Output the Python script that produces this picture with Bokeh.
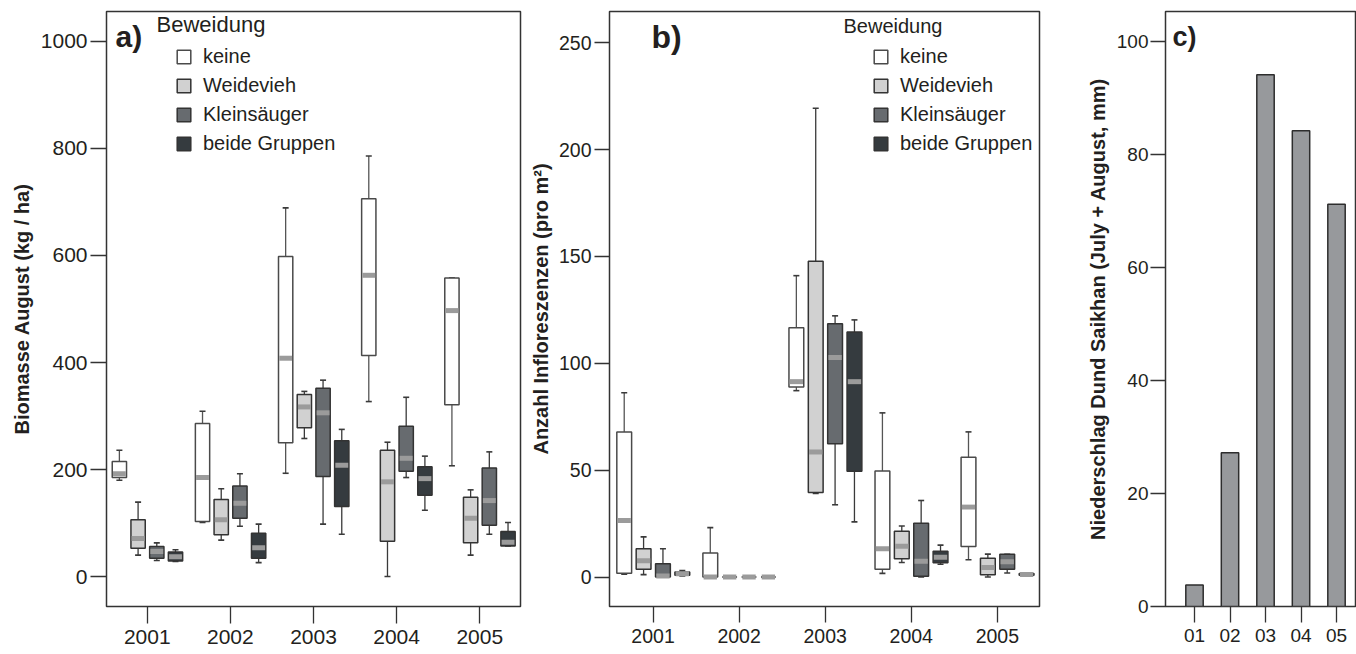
from bokeh.plotting import figure
from bokeh.layouts import row
from bokeh.models import Range1d, FixedTicker, Legend, LegendItem, Label
from bokeh.core.properties import value
from bokeh.embed import file_html
from bokeh.resources import INLINE

FONT = "Liberation Sans"
INK = "#231f20"
LINE = "#333333"
WHISK = "#3a3a3a"

# ---------------- data ----------------
years = ["2001", "2002", "2003", "2004", "2005"]
groups = ["keine", "Weidevieh", "Kleinsäuger", "beide Gruppen"]
group_colors = ["#ffffff", "#d1d1d1", "#676b6f", "#353b3f"]
median_color = "#9b9b9b"

# a) Biomasse August (kg / ha): lower whisker, Q1, median, Q3, upper whisker
bio_keine_lo = [180, 101, 193, 327, 207]
bio_keine_q1 = [185, 103, 250, 413, 321]
bio_keine_med = [192, 185, 408, 563, 497]
bio_keine_q3 = [215, 286, 598, 706, 558]
bio_keine_hi = [236, 309, 689, 786, 558]

bio_weide_lo = [40, 68, 258, 0, 40]
bio_weide_q1 = [53, 78, 278, 66, 63]
bio_weide_med = [71, 106, 317, 177, 109]
bio_weide_q3 = [106, 144, 340, 236, 148]
bio_weide_hi = [139, 164, 346, 251, 162]

bio_klein_lo = [30, 94, 98, 185, 79]
bio_klein_q1 = [34, 109, 187, 197, 96]
bio_klein_med = [47, 137, 306, 221, 142]
bio_klein_q3 = [56, 169, 352, 281, 203]
bio_klein_hi = [63, 192, 367, 335, 233]

bio_beide_lo = [28, 26, 79, 124, 57]
bio_beide_q1 = [29, 34, 131, 152, 57]
bio_beide_med = [37, 54, 208, 183, 64]
bio_beide_q3 = [46, 81, 254, 205, 84]
bio_beide_hi = [50, 98, 275, 225, 101]

# b) Anzahl Infloreszenzen (pro m²)
inf_keine_lo = [1.3, 0, 87.2, 1.7, 8.1]
inf_keine_q1 = [1.7, 0, 88.9, 3.6, 14.3]
inf_keine_med = [26.4, 0, 91.4, 13.2, 32.7]
inf_keine_q3 = [67.9, 11.2, 116.6, 49.6, 56.0]
inf_keine_hi = [86.2, 23.1, 141.0, 76.8, 67.9]

inf_weide_lo = [1.1, 0, 39.1, 6.8, 0]
inf_weide_q1 = [3.6, 0, 39.5, 8.6, 1.1]
inf_weide_med = [7.6, 0, 58.5, 14.4, 4.5]
inf_weide_q3 = [13.2, 0, 147.8, 21.4, 8.8]
inf_weide_hi = [18.8, 0, 219.3, 23.9, 10.7]

inf_klein_lo = [0, 0, 33.8, 0, 1.9]
inf_klein_q1 = [0, 0, 62.3, 0.3, 3.6]
inf_klein_med = [0.5, 0, 102.7, 7.4, 7.1]
inf_klein_q3 = [6.2, 0, 118.5, 25.1, 10.6]
inf_klein_hi = [13.2, 0, 122.2, 35.8, 10.6]

inf_beide_lo = [0.5, 0, 25.8, 6.0, 0.8]
inf_beide_q1 = [0.8, 0, 49.5, 6.7, 0.8]
inf_beide_med = [1.5, 0, 91.4, 9.2, 1.2]
inf_beide_q3 = [2.3, 0, 114.6, 12.0, 1.6]
inf_beide_hi = [3.0, 0, 120.3, 14.9, 1.6]

# c) Niederschlag Dund Saikhan (July + August, mm)
rain_years = ["01", "02", "03", "04", "05"]
rain_mm = [3.8, 27.2, 94.1, 84.2, 71.2]

bio_ticks = [0, 200, 400, 600, 800, 1000]
inf_ticks = [0, 50, 100, 150, 200, 250]
rain_ticks = [0, 20, 40, 60, 80, 100]

bio_stats = [
    (bio_keine_lo, bio_keine_q1, bio_keine_med, bio_keine_q3, bio_keine_hi),
    (bio_weide_lo, bio_weide_q1, bio_weide_med, bio_weide_q3, bio_weide_hi),
    (bio_klein_lo, bio_klein_q1, bio_klein_med, bio_klein_q3, bio_klein_hi),
    (bio_beide_lo, bio_beide_q1, bio_beide_med, bio_beide_q3, bio_beide_hi),
]
inf_stats = [
    (inf_keine_lo, inf_keine_q1, inf_keine_med, inf_keine_q3, inf_keine_hi),
    (inf_weide_lo, inf_weide_q1, inf_weide_med, inf_weide_q3, inf_weide_hi),
    (inf_klein_lo, inf_klein_q1, inf_klein_med, inf_klein_q3, inf_klein_hi),
    (inf_beide_lo, inf_beide_q1, inf_beide_med, inf_beide_q3, inf_beide_hi),
]

OFFSETS = [-0.335, -0.11, 0.115, 0.34]
BOX_W = 0.172
MED_W = 0.155
FIG_H = 654


def style_axes(p, ylabel, tick_px, ytick_out, ystand, ylab_stand, xtick_out, xstand, yticks, xlabels):
    p.grid.visible = False
    p.outline_line_color = LINE
    p.outline_line_width = 1.5
    p.background_fill_color = "white"
    p.border_fill_color = "white"
    p.xaxis.ticker = FixedTicker(ticks=list(range(1, len(xlabels) + 1)))
    p.xaxis.major_label_overrides = {i + 1: lab for i, lab in enumerate(xlabels)}
    p.yaxis.ticker = FixedTicker(ticks=yticks)
    for ax in (p.xaxis[0], p.yaxis[0]):
        ax.axis_line_color = None
        ax.major_tick_line_color = LINE
        ax.major_tick_line_width = 1.3
        ax.major_tick_in = 0
        ax.minor_tick_line_color = None
        ax.major_label_text_font = FONT
        ax.major_label_text_font_size = tick_px
        ax.major_label_text_color = INK
    p.yaxis.major_tick_out = ytick_out
    p.yaxis.major_label_standoff = ystand
    p.xaxis.major_tick_out = xtick_out
    p.xaxis.major_label_standoff = xstand
    p.yaxis.axis_label = ylabel
    p.yaxis.axis_label_text_font = FONT
    p.yaxis.axis_label_text_font_style = "bold"
    p.yaxis.axis_label_text_font_size = "20px"
    p.yaxis.axis_label_text_color = INK
    p.yaxis.axis_label_standoff = ylab_stand


def box_panel(stats, yr, xr, width, mbl, mbr, mbb):
    p = figure(width=width, height=FIG_H, x_range=Range1d(*xr), y_range=Range1d(*yr),
               output_backend="svg", toolbar_location=None,
               min_border_left=mbl, min_border_right=mbr, min_border_top=11, min_border_bottom=mbb)
    renderers = []
    for gi, (lo, q1, med, q3, hi) in enumerate(stats):
        xs = [i + 1 + OFFSETS[gi] for i in range(len(years))]
        wc = "#555555" if gi == 0 else WHISK
        p.segment(xs, q3, xs, hi, line_color=wc, line_width=1.3)
        p.segment(xs, lo, xs, q1, line_color=wc, line_width=1.3)
        p.scatter(xs, hi, marker="dash", size=6, line_color=WHISK, line_width=1.6)
        p.scatter(xs, lo, marker="dash", size=6, line_color=WHISK, line_width=1.6)
        r = p.vbar(x=xs, width=BOX_W, top=q3, bottom=q1, fill_color=group_colors[gi],
                   line_color="#4a4a4a" if gi == 0 else LINE, line_width=1.5)
        p.rect(xs, med, width=MED_W, height=5, height_units="screen",
               fill_color=median_color, line_color=None)
        renderers.append(r)
    return p, renderers


def add_legend(p, renderers, lx, ly, spacing, title_x, title_y, title_px):
    leg = Legend(items=[LegendItem(label=value(g), renderers=[r]) for g, r in zip(groups, renderers)],
                 location=(lx, ly), orientation="vertical",
                 glyph_width=17, glyph_height=17, label_standoff=11, spacing=spacing,
                 padding=0, margin=0, border_line_color=None, background_fill_alpha=0,
                 label_text_font=FONT, label_text_font_size="20px", label_text_color=INK)
    p.add_layout(leg)
    p.add_layout(Label(x=title_x, y=title_y, x_units="screen", y_units="screen", text="Beweidung",
                       text_font=FONT, text_font_size=title_px, text_color=INK,
                       text_baseline="top", text_align="left"))


def add_letter(p, txt, x, y, size):
    p.add_layout(Label(x=x, y=y, x_units="screen", y_units="screen", text=txt,
                       text_font=FONT, text_font_style="bold", text_font_size=size,
                       text_color="#231f20", text_baseline="top", text_align="left"))


# ---- panel a ----
pa, ra = box_panel(bio_stats, (-56, 1056), (0.51, 5.49), 526, 106, 6, 48)
style_axes(pa, "Biomasse August (kg / ha)", "21px", 16, 3, 5, 17, 6, bio_ticks, years)
FA = 595
add_legend(pa, ra, 69, FA - 144, 6, 50, FA - 0.5, "22px")
add_letter(pa, "a)", 9, FA - 8, "30px")

# ---- panel b ----
pb, rb = box_panel(inf_stats, (-13.8, 264.6), (0.494, 5.49), 554, 82, 41, 45)
style_axes(pb, "Anzahl Infloreszenzen (pro m²)", "19.5px", 15, 3, 4, 16, 6, inf_ticks, years)
FB = 598
add_legend(pb, rb, 263, FB - 147, 6, 234, FB - 6, "20px")
add_letter(pb, "b)", 42, FB - 10.5, "32px")

# ---- panel c ----
pc = figure(width=276, height=FIG_H, x_range=Range1d(0.183, 5.535), y_range=Range1d(0, 105.3),
            output_backend="svg", toolbar_location=None,
            min_border_left=85, min_border_right=1, min_border_top=11, min_border_bottom=45)
pc.vbar(x=list(range(1, len(rain_mm) + 1)), top=rain_mm, bottom=0, width=0.49,
        fill_color="#97999c", line_color="#2d2d2d", line_width=1.5)
style_axes(pc, "Niederschlag Dund Saikhan (July + August, mm)", "19px", 15, 2, 5, 16, 6, rain_ticks, rain_years)
add_letter(pc, "c)", 7, FB - 13, "27px")

layout = row(pa, pb, pc, spacing=0)
open("out.html", "w").write(file_html(layout, INLINE))
